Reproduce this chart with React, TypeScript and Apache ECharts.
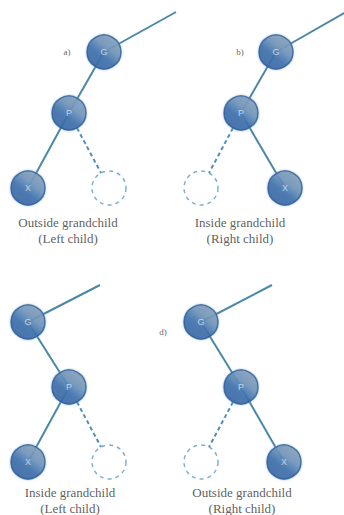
import React, { useEffect, useRef } from "react";
import * as echarts from "echarts";

// Panels a), b), c), d)
const panelTags = ["a)", "b)", "", "d)"];
const tagX = [67, 240, 0, 163];
const tagY = [52, 52, 0, 332];

// Node names and centres per panel: [G, P, X]
const nodeNames = ["G", "P", "X"];
const gX = [104, 276, 28, 201];
const gY = [52, 52, 322, 322];
const pX = [69, 241, 69, 241];
const pY = [113, 113, 387, 387];
const xX = [28, 285, 28, 284];
const xY = [188, 188, 462, 462];

// Empty (dashed) sibling positions
const emptyX = [109, 201, 109, 201];
const emptyY = [188, 188, 462, 462];

// Upper edge of G going to its parent
const parentX = [176, 346, 100, 272];
const parentY = [12, 12, 285, 285];

// Captions
const captionLine1 = ["Outside grandchild", "Inside grandchild", "Inside grandchild", "Outside grandchild"];
const captionLine2 = ["(Left child)", "(Right child)", "(Left child)", "(Right child)"];
const captionX = [68, 240, 70, 242];
const captionY = [230, 230, 500, 500];

const R = 17;

export default function App() {
  const ref = useRef<HTMLDivElement>(null);
  useEffect(() => {
    document.body.style.margin = "0";
    const chart = echarts.init(ref.current!, null, { renderer: "svg" });

    const solid: any[] = [];
    const dashed: any[] = [];
    const nodes: any[] = [];
    const empties: any[] = [];
    const captions: any[] = [];
    const tags: any[] = [];
    for (let i = 0; i < 4; i++) {
      solid.push({ coords: [[gX[i], gY[i]], [parentX[i], parentY[i]]] });
      solid.push({ coords: [[gX[i], gY[i]], [pX[i], pY[i]]] });
      solid.push({ coords: [[pX[i], pY[i]], [xX[i], xY[i]]] });
      const dx = emptyX[i] - pX[i];
      const dy = emptyY[i] - pY[i];
      const len = Math.sqrt(dx * dx + dy * dy);
      const k = (len - R) / len;
      const k0 = R / len;
      dashed.push({
        coords: [
          [pX[i] + dx * k0, pY[i] + dy * k0],
          [pX[i] + dx * k, pY[i] + dy * k],
        ],
      });
      nodes.push({ value: [gX[i], gY[i]], name: nodeNames[0] });
      nodes.push({ value: [pX[i], pY[i]], name: nodeNames[1] });
      nodes.push({ value: [xX[i], xY[i]], name: nodeNames[2] });
      empties.push({ value: [emptyX[i], emptyY[i]] });
      captions.push({ value: [captionX[i], captionY[i]], name: captionLine1[i] + "\n" + captionLine2[i] });
      if (panelTags[i]) tags.push({ value: [tagX[i], tagY[i]], name: panelTags[i] });
    }

    const nodeFill = new echarts.graphic.LinearGradient(0.85, 0.05, 0.15, 0.95, [
      { offset: 0, color: "#8aa0b8" },
      { offset: 0.35, color: "#7090b6" },
      { offset: 0.5, color: "#4a78b0" },
      { offset: 0.62, color: "#2f62a6" },
      { offset: 1, color: "#24569e" },
    ]);

    chart.setOption({
      animation: false,
      grid: { left: 0, right: 0, top: 0, bottom: 0 },
      xAxis: { type: "value", min: 0, max: 344, show: false },
      yAxis: { type: "value", min: 0, max: 515, inverse: true, show: false },
      series: [
        {
          type: "lines",
          coordinateSystem: "cartesian2d",
          data: solid,
          lineStyle: { color: "#4b88a8", width: 2, opacity: 1 },
          z: 1,
          silent: true,
        },
        {
          type: "lines",
          coordinateSystem: "cartesian2d",
          data: dashed,
          lineStyle: { color: "#4f8fbc", width: 2, type: [4, 3], opacity: 1 },
          z: 1,
          silent: true,
        },
        {
          type: "scatter",
          data: empties,
          symbol: "circle",
          symbolSize: R * 2,
          itemStyle: {
            color: "rgba(255,255,255,0)",
            borderColor: "#5b9cc6",
            borderWidth: 1.5,
            borderType: [4, 4],
          },
          z: 2,
          silent: true,
        },
        {
          type: "scatter",
          data: nodes,
          symbol: "circle",
          symbolSize: R * 2,
          itemStyle: {
            color: nodeFill,
            borderColor: "#2a5a9c",
            borderWidth: 1.5,
            shadowColor: "rgba(120,170,200,0.8)",
            shadowBlur: 2,
          },
          label: {
            show: true,
            position: "inside",
            formatter: (p: any) => p.name,
            color: "#dfe8f1",
            fontSize: 9,
            fontFamily: "Liberation Sans",
          },
          z: 3,
          silent: true,
        },
        {
          type: "scatter",
          data: captions,
          symbolSize: 0,
          label: {
            show: true,
            position: "inside",
            formatter: (p: any) => p.name,
            color: "#333333",
            fontSize: 13,
            lineHeight: 16,
            fontFamily: "Liberation Serif",
          },
          silent: true,
        },
        {
          type: "scatter",
          data: tags,
          symbolSize: 0,
          label: {
            show: true,
            position: "inside",
            formatter: (p: any) => p.name,
            color: "#333333",
            fontSize: 9,
            fontFamily: "Liberation Serif",
          },
          silent: true,
        },
      ],
    });
    return () => chart.dispose();
  }, []);
  return <div ref={ref} style={{ width: 344, height: 515 }} />;
}
